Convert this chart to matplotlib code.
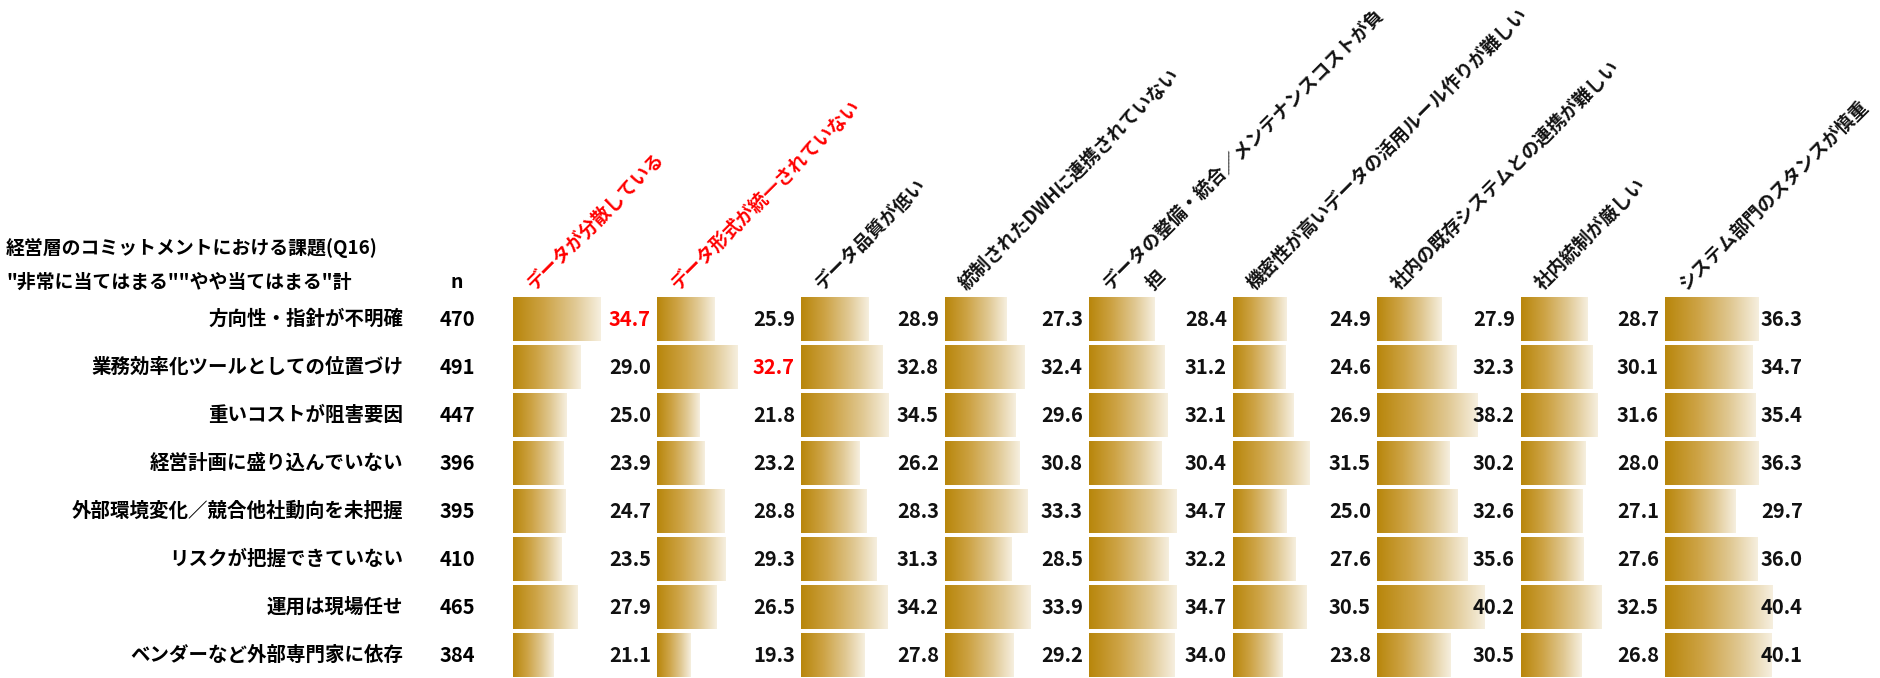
import numpy as np
import matplotlib
matplotlib.use("Agg")
import matplotlib.pyplot as plt
from matplotlib import transforms
from matplotlib.colors import LinearSegmentedColormap

plt.rcParams['font.family'] = ['Noto Sans CJK JP', 'DejaVu Sans']
plt.rcParams['font.weight'] = 'bold'

# data
title1 = "経営層のコミットメントにおける課題(Q16)"
title2 = '"非常に当てはまる""やや当てはまる"計'
rows = ["方向性・指針が不明確", "業務効率化ツールとしての位置づけ", "重いコストが阻害要因",
        "経営計画に盛り込んでいない", "外部環境変化／競合他社動向を未把握",
        "リスクが把握できていない", "運用は現場任せ", "ベンダーなど外部専門家に依存"]
n = [470, 491, 447, 396, 395, 410, 465, 384]
cols = ["データが分散している", "データ形式が統一されていない", "データ品質が低い",
        "統制されたDWHに連携されていない", "データの整備・統合／メンテナンスコストが負\n担",
        "機密性が高いデータの活用ルール作りが難しい", "社内の既存システムとの連携が難しい",
        "社内統制が厳しい", "システム部門のスタンスが慎重"]
values = [
    [34.7, 25.9, 28.9, 27.3, 28.4, 24.9, 27.9, 28.7, 36.3],
    [29.0, 32.7, 32.8, 32.4, 31.2, 24.6, 32.3, 30.1, 34.7],
    [25.0, 21.8, 34.5, 29.6, 32.1, 26.9, 38.2, 31.6, 35.4],
    [23.9, 23.2, 26.2, 30.8, 30.4, 31.5, 30.2, 28.0, 36.3],
    [24.7, 28.8, 28.3, 33.3, 34.7, 25.0, 32.6, 27.1, 29.7],
    [23.5, 29.3, 31.3, 28.5, 32.2, 27.6, 35.6, 27.6, 36.0],
    [27.9, 26.5, 34.2, 33.9, 34.7, 30.5, 40.2, 32.5, 40.4],
    [21.1, 19.3, 27.8, 29.2, 34.0, 23.8, 30.5, 26.8, 40.1],
]
red_cols = [0, 1]           # headers in red
red_cells = [(0, 0), (1, 1)]  # highlighted values

W, H = 1880, 678
fig = plt.figure(figsize=(W / 100, H / 100), dpi=100)
fig.patch.set_facecolor('white')

gold = LinearSegmentedColormap.from_list(
    'gold', [(0.0, '#b8860b'), (0.35, '#cda345'), (0.7, '#e0c892'), (1.0, '#f6efdf')])
grad = np.linspace(0, 1, 256).reshape(1, -1)

vals = np.array(values)
xmin = 9.6
px_per_unit = 3.5
col_w = 138
col_step = 144
x0 = 513
top = 295
row_h = 48
nrows = len(rows)

axes = []
for j in range(len(cols)):
    ax = fig.add_axes([(x0 + col_step * j) / W, 1 - (top + row_h * nrows) / H,
                       col_w / W, row_h * nrows / H])
    ax.set_xlim(xmin, xmin + col_w / px_per_unit)
    ax.set_ylim(nrows - 0.5, -0.5)
    ax.axis('off')
    bars = ax.barh(range(nrows), vals[:, j], height=0.91, left=0,
                   color='none', edgecolor='none')
    for i, b in enumerate(bars):
        v = vals[i, j]
        im = ax.imshow(grad, cmap=gold, aspect='auto', interpolation='bilinear',
                       extent=[xmin, v, i + 0.455, i - 0.455], zorder=1)
        im.set_clip_path(b)
        c = 'red' if (i, j) in red_cells else '#111111'
        ax.text(ax.get_xlim()[1], i, f"{v:.1f}", ha='right', va='center',
                fontsize=14.5, color=c, zorder=3)
    ax.set_xlim(xmin, xmin + col_w / px_per_unit)
    ax.set_ylim(nrows - 0.5, -0.5)
    axes.append(ax)

# row labels and n
tr = transforms.blended_transform_factory(fig.transFigure, axes[0].transData)
for i, (lab, nn) in enumerate(zip(rows, n)):
    fig.text(403 / W, i, lab, transform=tr, ha='right', va='center', fontsize=14)
    fig.text(457 / W, i, str(nn), transform=tr, ha='center', va='center', fontsize=14.5)

fig.text(6 / W, 1 - 248 / H, title1, ha='left', va='center', fontsize=13.6)
fig.text(6 / W, 1 - 282 / H, title2, ha='left', va='center', fontsize=13.6)
fig.text(457 / W, 1 - 282 / H, "n", ha='center', va='center', fontsize=14)

# rotated column headers
for j, name in enumerate(cols):
    c = 'red' if j in red_cols else '#111111'
    lines = name.split("\n")
    hx = x0 + col_step * j + 24
    fig.text(hx / W, 1 - 293 / H, lines[0], rotation=45, rotation_mode='anchor',
             ha='left', va='bottom', fontsize=13.3, color=c)
    if len(lines) > 1:
        fig.text((hx + 43) / W, 1 - 293 / H, lines[1], rotation=45, rotation_mode='anchor',
                 ha='left', va='bottom', fontsize=13.3, color=c)

fig.savefig("out.png", dpi=100)
